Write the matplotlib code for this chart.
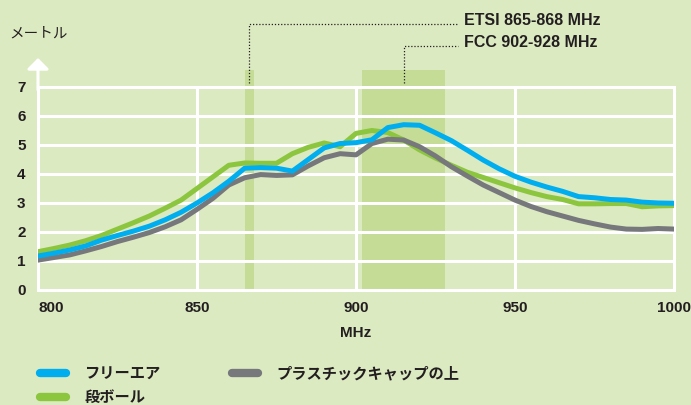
import matplotlib
matplotlib.use("Agg")
import matplotlib.pyplot as plt
from matplotlib.lines import Line2D

# frequency axis (MHz), sampled every 5 MHz
freq_mhz = [800, 805, 810, 815, 820, 825, 830, 835, 840, 845,
            850, 855, 860, 865, 870, 875, 880, 885, 890, 895,
            900, 905, 910, 915, 920, 925, 930, 935, 940, 945,
            950, 955, 960, 965, 970, 975, 980, 985, 990, 995, 1000]

# read range in metres
free_air = [1.17, 1.27, 1.38, 1.52, 1.72, 1.88, 2.03, 2.20, 2.42, 2.68,
            3.00, 3.35, 3.75, 4.20, 4.22, 4.20, 4.10, 4.50, 4.90, 5.05,
            5.08, 5.18, 5.60, 5.70, 5.68, 5.42, 5.15, 4.82, 4.48, 4.18,
            3.92, 3.72, 3.55, 3.40, 3.22, 3.18, 3.12, 3.10, 3.03, 3.00, 2.99]
cardboard = [1.32, 1.43, 1.55, 1.70, 1.88, 2.10, 2.32, 2.55, 2.82, 3.10,
             3.50, 3.90, 4.30, 4.38, 4.37, 4.37, 4.70, 4.92, 5.07, 4.94,
             5.40, 5.50, 5.43, 5.17, 4.83, 4.55, 4.30, 4.06, 3.88, 3.70,
             3.52, 3.36, 3.22, 3.12, 2.97, 2.97, 2.98, 2.98, 2.87, 2.90, 2.91]
plastic_cap = [1.03, 1.12, 1.21, 1.35, 1.50, 1.67, 1.82, 1.98, 2.18, 2.42,
               2.78, 3.16, 3.62, 3.87, 3.98, 3.95, 3.97, 4.28, 4.56, 4.70,
               4.66, 5.05, 5.20, 5.17, 4.94, 4.62, 4.25, 3.93, 3.62, 3.36,
               3.10, 2.88, 2.70, 2.55, 2.40, 2.28, 2.17, 2.10, 2.09, 2.12, 2.10]

series_labels = ["フリーエア", "段ボール", "プラスチックキャップの上"]

etsi_band = (865, 868)
fcc_band = (902, 928)
band_labels = ["ETSI 865-868 MHz", "FCC 902-928 MHz"]

x_ticks = [800, 850, 900, 950, 1000]
y_ticks = [0, 1, 2, 3, 4, 5, 6, 7]

BG = "#dceac2"
BAND = "#c4dc96"
BLUE = "#00aeef"
GREEN = "#8cc63f"
GRAY = "#77787b"
INK = "#231f20"
LATIN = ["Liberation Sans", "Noto Sans CJK JP"]
JP = ["Noto Sans CJK JP", "DejaVu Sans"]

fig = plt.figure(figsize=(6.91, 4.05), dpi=100)
fig.patch.set_facecolor(BG)
ax = fig.add_axes([0.055, 0.284, 0.9204, 0.5012])
ax.set_facecolor(BG)
ax.set_xlim(800, 1000)
ax.set_ylim(0, 7)

# frequency bands, reaching a little above the plot frame
band_top = 7.6 / 7
for lo, hi in (etsi_band, fcc_band):
    ax.axvspan(lo, hi, ymin=0, ymax=band_top, color=BAND, lw=0,
               zorder=0.2, clip_on=False)

ax.set_axisbelow(True)
ax.grid(color="white", lw=2.2)
for s in ax.spines.values():
    s.set_color("white")
    s.set_linewidth(2.2)

ax.set_xticks(x_ticks)
ax.set_yticks(y_ticks)
ax.tick_params(length=0, colors=INK)
ax.tick_params(axis="x", pad=8)
ax.tick_params(axis="y", pad=9)
ax.set_xticklabels([str(v) for v in x_ticks], fontsize=11,
                   fontweight="bold", family=LATIN)
ax.set_yticklabels([str(v) for v in y_ticks], fontsize=11,
                   fontweight="bold", family=LATIN)
ax.get_xticklabels()[0].set_ha("left")

ax.set_xlabel("MHz", fontsize=11, fontweight="bold", family=LATIN,
              color=INK, labelpad=8)

# y axis arrow and unit
ax.annotate("", xy=(800, 8.0), xytext=(800, 6.9),
            arrowprops=dict(arrowstyle="-|>,head_length=0.65,head_width=0.65",
                            color="white", lw=2.2, mutation_scale=10,
                            shrinkA=0, shrinkB=0),
            annotation_clip=False)
ax.text(791.0, 8.85, "メートル", ha="left", va="center", fontsize=10.5,
        family=JP, color=INK)

ax.plot(freq_mhz, cardboard, color=GREEN, lw=3.6, solid_joinstyle="round",
        solid_capstyle="round", zorder=3)
ax.plot(freq_mhz, plastic_cap, color=GRAY, lw=3.6, solid_joinstyle="round",
        solid_capstyle="round", zorder=3.1)
ax.plot(freq_mhz, free_air, color=BLUE, lw=3.6, solid_joinstyle="round",
        solid_capstyle="round", zorder=3.2)

# dotted leaders to the band labels
dot = dict(color=INK, lw=0.9, linestyle=(0, (1, 1.5)), clip_on=False)
etsi_mid = sum(etsi_band) / 2
fcc_mid = sum(fcc_band) / 2
ax.plot([etsi_mid, etsi_mid, 932.2], [7.14, 9.17, 9.17], **dot)
ax.plot([fcc_mid, fcc_mid, 932.2], [7.14, 8.41, 8.41], **dot)
ax.text(934, 9.3, band_labels[0], ha="left", va="center", fontsize=11.5,
        fontweight="bold", family=LATIN, color=INK)
ax.text(934, 8.52, band_labels[1], ha="left", va="center", fontsize=11.5,
        fontweight="bold", family=LATIN, color=INK)

handles = [
    Line2D([0], [0], color=BLUE, lw=6, solid_capstyle="round"),
    Line2D([0], [0], color=GREEN, lw=6, solid_capstyle="round"),
    Line2D([0], [0], color=GRAY, lw=6, solid_capstyle="round"),
]
leg = fig.legend(handles, series_labels, loc="upper left",
                 bbox_to_anchor=(0.058, 0.098), ncol=2, frameon=False,
                 borderpad=0, borderaxespad=0, handlelength=1.7,
                 handletextpad=1.2, columnspacing=4.7, labelspacing=0.5,
                 prop=dict(family=JP, weight="bold", size=11))
for t in leg.get_texts():
    t.set_color(INK)

fig.savefig("out.png", dpi=100, facecolor=BG)
